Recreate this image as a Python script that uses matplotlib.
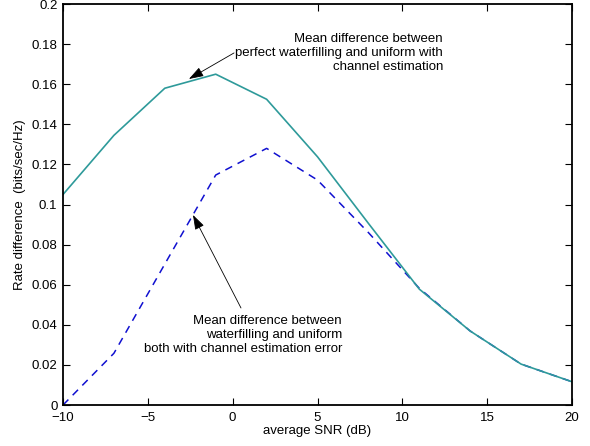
import matplotlib
matplotlib.use("Agg")
import matplotlib.pyplot as plt
import numpy as np

plt.rcParams['font.family'] = ['Liberation Sans', 'DejaVu Sans']

# dane
snr = [-10, -7, -4, -1, 2, 5, 8, 11, 14, 17, 20]
perfect_wf = [0.105, 0.1345, 0.158, 0.165, 0.1525, 0.1238, 0.0906, 0.0578, 0.0369, 0.0204, 0.0116]
est_wf = [0.0, 0.0258, 0.0703, 0.1147, 0.128, 0.1122, 0.0860, 0.0582, 0.0369, 0.0204, 0.0116]

xticks = [-10, -5, 0, 5, 10, 15, 20]
yticks = [0, 0.02, 0.04, 0.06, 0.08, 0.1, 0.12, 0.14, 0.16, 0.18, 0.2]
ytick_labels = ['0', '0.02', '0.04', '0.06', '0.08', '0.1', '0.12', '0.14', '0.16', '0.18', '0.2']

text1 = 'Mean difference between\nperfect waterfilling and uniform with\nchannel estimation'
text2 = 'Mean difference between\nwaterfilling and uniform\nboth with channel estimation error'

fs = 9.5

fig = plt.figure(figsize=(5.9, 4.46), dpi=100)
ax = fig.add_axes([0.1068, 0.0919, 0.8627, 0.8991])

ax.plot(snr, est_wf, '--', color='#1010d0', lw=1.1, dashes=(5, 4))
ax.plot(snr, perfect_wf, '-', color='#2e9a9a', lw=1.2)

ax.set_xlim(-10, 20)
ax.set_ylim(0, 0.2)
ax.set_xticks(xticks)
ax.set_yticks(yticks)
ax.set_yticklabels(ytick_labels)
ax.tick_params(direction='in', top=True, right=True, length=5, width=0.8,
               labelsize=fs)
ax.tick_params(axis='x', pad=5)
ax.tick_params(axis='y', pad=4)
for s in ax.spines.values():
    s.set_linewidth(1.3)

ax.set_xlabel('average SNR (dB)', fontsize=fs, labelpad=1)
ax.set_ylabel('Rate difference  (bits/sec/Hz)', fontsize=fs, labelpad=4)

arrow = dict(arrowstyle='-|>,head_length=0.9,head_width=0.3', color='k', lw=0.6,
             shrinkA=0, shrinkB=0)
ax.annotate('', xy=(-2.58, 0.1626), xytext=(0.08, 0.1756), arrowprops=arrow)
ax.annotate('', xy=(-2.34, 0.0948), xytext=(0.49, 0.0484), arrowprops=arrow)

ax.text(12.39, 0.1756, text1, ha='right', va='center', fontsize=fs, linespacing=1.2)
ax.text(6.44, 0.0349, text2, ha='right', va='center', fontsize=fs, linespacing=1.2)

plt.savefig('out.png', dpi=100)
